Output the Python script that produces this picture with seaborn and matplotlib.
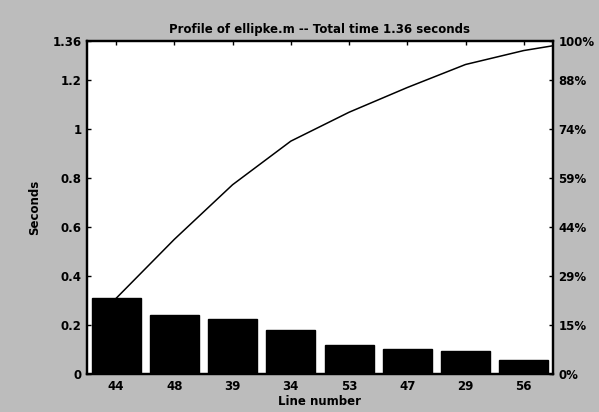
import numpy as np
import pandas as pd
import matplotlib
matplotlib.use("Agg")
import matplotlib.pyplot as plt
import seaborn as sns

# time spent per line, sorted (last entry is off the visible range)
line_numbers = ["44", "48", "39", "34", "53", "47", "29", "56", "rest"]
seconds = [0.309, 0.241, 0.223, 0.178, 0.118, 0.101, 0.094, 0.057, 0.039]
total_time = 1.36
left_ticks = [0, 0.2, 0.4, 0.6, 0.8, 1, 1.2, 1.36]
left_labels = ["0", "0.2", "0.4", "0.6", "0.8", "1", "1.2", "1.36"]
right_labels = ["0%", "15%", "29%", "44%", "59%", "74%", "88%", "100%"]

n_bars = 8
df = pd.DataFrame({"Line": line_numbers[:n_bars], "Seconds": seconds[:n_bars]})
cum = np.cumsum(seconds)

sns.set_style("white")
plt.rcParams["font.family"] = ["DejaVu Sans"]
plt.rcParams["font.weight"] = "bold"
for key in ("text.color", "axes.labelcolor", "xtick.color", "ytick.color"):
    plt.rcParams[key] = "black"

bg = "#bcbcbc"
fig = plt.figure(figsize=(5.99, 4.12), dpi=100, facecolor=bg)
ax = fig.add_axes([0.1452, 0.0922, 0.7778, 0.8083])
ax.set_facecolor("white")

sns.barplot(data=df, x="Line", y="Seconds", color="black", width=0.84,
            saturation=1, edgecolor="black", ax=ax)
sns.lineplot(x=np.arange(len(cum)), y=cum, color="black", linewidth=1.1, ax=ax)

ax.set_xlim(-0.5, n_bars - 0.5)
ax.set_ylim(0, total_time)
ax.set_yticks(left_ticks)
ax.set_yticklabels(left_labels)
ax.set_xlabel("Line number", fontsize=8.5, fontweight="bold", labelpad=2)
ax.set_ylabel("Seconds", fontsize=8.5, fontweight="bold", labelpad=8)
ax.set_title("Profile of ellipke.m -- Total time 1.36 seconds",
             fontsize=8.5, fontweight="bold", pad=6)
ax.tick_params(direction="in", length=3, width=1, labelsize=8.5,
               top=True, pad=4)

ax2 = ax.twinx()
ax2.set_ylim(0, total_time)
ax2.set_yticks(left_ticks)
ax2.set_yticklabels(right_labels)
ax2.tick_params(direction="in", length=3, width=1, labelsize=8.5, pad=4)

for a in (ax, ax2):
    for s in a.spines.values():
        s.set_color("black")
        s.set_linewidth(1.6)
    for lab in a.get_xticklabels() + a.get_yticklabels():
        lab.set_fontweight("bold")

fig.savefig("out.png", dpi=100, facecolor=bg)
